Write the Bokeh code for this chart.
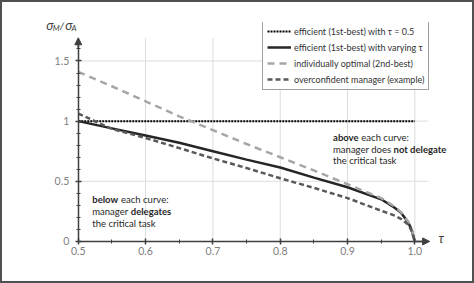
from bokeh.plotting import figure
from bokeh.models import (FixedTicker, Legend, LegendItem, Label, Arrow, NormalHead,
                          Range1d, PrintfTickFormatter)
from bokeh.embed import file_html
from bokeh.resources import INLINE
from bokeh.core.properties import value

# ---------------- data ----------------
tau = [0.5, 0.55, 0.6, 0.65, 0.7, 0.75, 0.8, 0.85, 0.9, 0.95, 0.97, 0.98, 0.99, 0.995, 1.0]
efficient_varying = [1.00, 0.94, 0.88, 0.82, 0.75, 0.68, 0.615, 0.53, 0.45, 0.35, 0.28, 0.235, 0.16, 0.10, 0.0]
second_best = [1.41, 1.29, 1.165, 1.04, 0.925, 0.81, 0.70, 0.59, 0.475, 0.36, 0.29, 0.24, 0.165, 0.11, 0.0]
overconfident = [1.063, 0.935, 0.86, 0.776, 0.69, 0.61, 0.525, 0.445, 0.36, 0.255, 0.215, 0.185, 0.14, 0.09, 0.0]
tau_const = [0.5, 1.0]
efficient_const = [1.0, 1.0]

x_major = [0.5, 0.6, 0.7, 0.8, 0.9, 1.0]
x_minor = [0.55, 0.65, 0.75, 0.85, 0.95]
y_major = [0, 0.5, 1, 1.5]
y_minor = [0.1, 0.2, 0.3, 0.4, 0.6, 0.7, 0.8, 0.9, 1.1, 1.2, 1.3, 1.4, 1.6]
y_labels = ["0", "0.5", "1", "1.5"]
legend_labels = ["efficient (1st-best) with \u03c4 = 0.5",
                 "efficient (1st-best) with varying \u03c4",
                 "individually optimal (2nd-best)",
                 "overconfident manager (example)"]

FONT = "Lato"
AXIS_C = "#3f3f3f"
TXT_C = "#262626"

p = figure(frame_width=416, frame_height=239,
           min_border_left=30, min_border_right=24, min_border_top=20, min_border_bottom=20,
           x_range=Range1d(0.432, 1.05), y_range=Range1d(-0.167, 1.82),
           output_backend="svg", toolbar_location=None,
           background_fill_color="white", border_fill_color="white",
           styles={"border": "2px solid #505050"})
p.outline_line_color = None
p.xgrid.visible = False
p.ygrid.visible = False

# axes
for ax in (p.xaxis[0], p.yaxis[0]):
    ax.axis_line_color = AXIS_C
    ax.axis_line_width = 1.5
    ax.major_tick_line_color = AXIS_C
    ax.minor_tick_line_color = AXIS_C
    ax.major_tick_line_width = 1.5
    ax.minor_tick_line_width = 1
    ax.major_tick_in = 3
    ax.major_tick_out = 3
    ax.minor_tick_in = 2
    ax.minor_tick_out = 2
    ax.major_label_text_color = "#808080"
    ax.major_label_text_font = FONT
    ax.major_label_text_font_size = "10.5px"

p.xaxis[0].ticker = FixedTicker(ticks=x_major, minor_ticks=x_minor)
p.xaxis[0].formatter = PrintfTickFormatter(format="%.1f")
p.xaxis[0].bounds = (0.5, 1.015)
p.xaxis[0].major_label_standoff = 3
p.xaxis[0].fixed_location = 0
p.yaxis[0].ticker = FixedTicker(ticks=y_major, minor_ticks=y_minor)
p.yaxis[0].major_label_overrides = {t: l for t, l in zip(y_major, y_labels)}
p.yaxis[0].bounds = (0, 1.66)
p.yaxis[0].major_label_standoff = 6
p.yaxis[0].fixed_location = 0.5

# gridlines (light)
gx = x_major[1:]
p.segment(x0=gx, y0=[0] * len(gx), x1=gx, y1=[1.69] * len(gx), line_color="#dcdcdc", line_width=1)
gy = y_major[1:]
p.segment(x0=[0.5] * len(gy), y0=gy, x1=[1.02] * len(gy), y1=gy, line_color="#dcdcdc", line_width=1)

# arrow heads
p.add_layout(Arrow(end=NormalHead(size=7, fill_color=AXIS_C, line_color=AXIS_C),
                   x_start=1.0, y_start=0.0, x_end=1.022, y_end=0.0,
                   line_color=AXIS_C, line_width=1.5))
p.add_layout(Arrow(end=NormalHead(size=7, fill_color=AXIS_C, line_color=AXIS_C),
                   x_start=0.5, y_start=1.6, x_end=0.5, y_end=1.693,
                   line_color=AXIS_C, line_width=1.5))

# curves
r1 = p.line(tau_const, efficient_const, line_color="#000000", line_width=2, line_dash="2 1")
r2 = p.line(tau, efficient_varying, line_color="#262626", line_width=2.5)
r3 = p.line(tau, second_best, line_color="#a6a6a6", line_width=2.5, line_dash="7 5")
r4 = p.line(tau, overconfident, line_color="#595959", line_width=2.5, line_dash="5 3")

legend = Legend(items=[LegendItem(label=l, renderers=[r]) for l, r in zip(legend_labels, [r1, r2, r3, r4])],
                location=(230, 171), margin=0, padding=4, spacing=4,
                glyph_width=24, glyph_height=12, label_height=12, label_standoff=3,
                label_text_font=FONT, label_text_font_size="9px", label_text_color="#333333",
                border_line_color="#404040", border_line_width=1,
                background_fill_color="white", background_fill_alpha=1)
p.add_layout(legend)

# annotation texts
def txt(x, y, s, xoff, bold=False, size="9.5px"):
    p.add_layout(Label(x=x, y=y, x_offset=xoff, text=s, text_font=FONT, text_font_size=size,
                       text_font_style="bold" if bold else "normal", text_color=TXT_C,
                       text_baseline="middle", text_align="left"))

bx = 0.5208
txt(bx, 0.345, "below", 0, True)
txt(bx, 0.345, "each curve:", 28.8)
txt(bx, 0.245, "manager", 0)
txt(bx, 0.245, "delegates", 38.5, True)
txt(bx, 0.145, "the critical task", 0)

ax_ = 0.8785
txt(ax_, 0.86, "above", 0, True)
txt(ax_, 0.86, "each curve:", 28.3)
txt(ax_, 0.768, "manager does", 0)
txt(ax_, 0.768, "not delegate", 60.5, True)
txt(ax_, 0.676, "the critical task", 0)

# axis titles
def lab(x, y, s, xoff, size, style="italic", color="#404040"):
    p.add_layout(Label(x=x, y=y, x_offset=xoff, text=s, text_font=FONT, text_font_size=size,
                       text_font_style=style, text_color=color, text_baseline="middle", text_align="left"))

lab(0.5, 1.80, "\u03c3", -32, "13px")
lab(0.5, 1.775, "M", -25.5, "8px")
lab(0.5, 1.80, "/", -18.5, "12px")
lab(0.5, 1.80, "\u03c3", -13, "13px")
lab(0.5, 1.775, "A", -6.8, "8px")
lab(1.035, 0.03, "\u03c4", 0, "13px")

open("out.html", "w").write(file_html(p, INLINE))
